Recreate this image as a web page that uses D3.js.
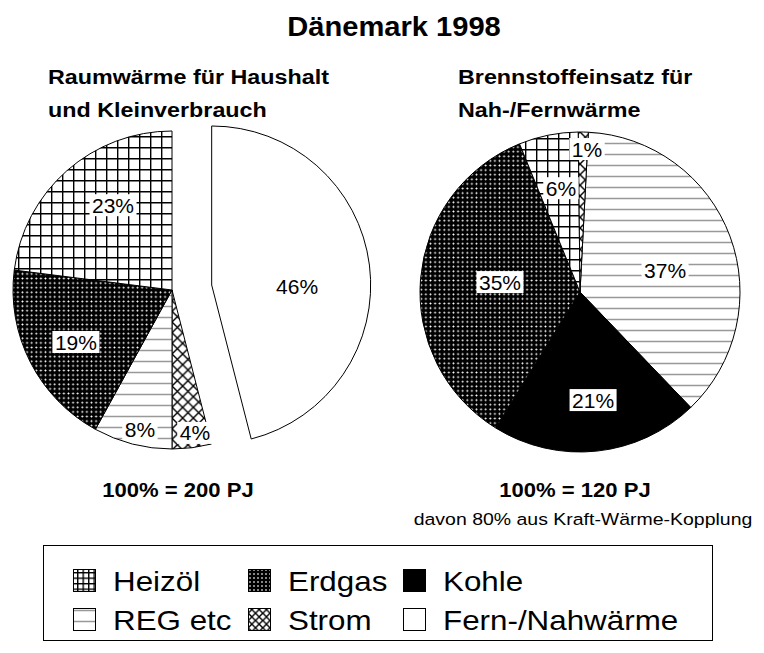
<!DOCTYPE html>
<html>
<head>
<meta charset="utf-8">
<script src="https://cdn.jsdelivr.net/npm/d3@7"></script>
<style>
  body { margin: 0; background: #fff; }
  text { font-family: "Liberation Sans", Arial, sans-serif; fill: #000; }
</style>
</head>
<body>
<div id="chart"></div>
<script>
// Raumwärme (left pie), clockwise from 12 o'clock
const leftCategories = ["Fern-/Nahwärme", "Strom", "REG etc", "Erdgas", "Heizöl"];
const leftValues = [46, 4, 8, 19, 23];
// Brennstoffeinsatz Nah-/Fernwärme (right pie)
const rightCategories = ["REG etc", "Kohle", "Erdgas", "Heizöl", "Strom"];
const rightValues = [37, 21, 35, 6, 1];

const legendCategories = ["Heizöl", "Erdgas", "Kohle", "REG etc", "Strom", "Fern-/Nahwärme"];

const width = 764, height = 653;

const svg = d3.select("#chart").append("svg")
  .attr("width", width)
  .attr("height", height);

svg.append("rect").attr("width", width).attr("height", height).attr("fill", "#fff");

const defs = svg.append("defs");

// hatch patterns, s = tile edge
function makePattern(id, kind, s) {
  const p = defs.append("pattern")
    .attr("id", id)
    .attr("patternUnits", "userSpaceOnUse")
    .attr("width", s).attr("height", s);
  if (kind === "grid") {
    p.append("rect").attr("width", s).attr("height", s).attr("fill", "#fff");
    p.append("path").attr("d", `M0,0.7H${s}M0.7,0V${s}`)
      .attr("stroke", "#000").attr("stroke-width", 1.4);
  } else if (kind === "hlines") {
    p.append("rect").attr("width", s).attr("height", s).attr("fill", "#fff");
    p.append("path").attr("d", `M0,${s / 2}H${s}`)
      .attr("stroke", "#999").attr("stroke-width", 1.5);
  } else if (kind === "cross") {
    p.append("rect").attr("width", s).attr("height", s).attr("fill", "#fff");
    p.append("path").attr("d", `M0,0L${s},${s}M${s},0L0,${s}`)
      .attr("stroke", "#000").attr("stroke-width", 1.4);
  } else if (kind === "weave") {
    p.append("rect").attr("width", s).attr("height", s).attr("fill", "#000");
    const c = s / 2, h = s * 0.26;
    p.append("path")
      .attr("d", `M${c},${c - h}L${c + h},${c}L${c},${c + h}L${c - h},${c}Z`)
      .attr("fill", "#fff");
  }
}

makePattern("p-heizol", "grid", 11);
makePattern("p-reg", "hlines", 11);
makePattern("p-strom", "cross", 10.67);
makePattern("p-erdgas", "weave", 4.6);
makePattern("l-heizol", "grid", 5.5);
makePattern("l-reg", "hlines", 11);
makePattern("l-strom", "cross", 7.3);
makePattern("l-erdgas", "weave", 4);

const fills = {
  "Heizöl": "url(#p-heizol)",
  "Erdgas": "url(#p-erdgas)",
  "Kohle": "#000",
  "REG etc": "url(#p-reg)",
  "Strom": "url(#p-strom)",
  "Fern-/Nahwärme": "#fff"
};
const legendFills = {
  "Heizöl": "url(#l-heizol)",
  "Erdgas": "url(#l-erdgas)",
  "Kohle": "#000",
  "REG etc": "url(#l-reg)",
  "Strom": "url(#l-strom)",
  "Fern-/Nahwärme": "#fff"
};

function addText(g, str, x, y, size, opts = {}) {
  return g.append("text")
    .attr("transform", `translate(${x},${y}) scale(${opts.sx || 1},1)`)
    .attr("text-anchor", opts.anchor || "start")
    .style("font-size", size + "px")
    .style("font-weight", opts.weight || "normal")
    .text(str);
}

// ---- titles
addText(svg, "Dänemark 1998", 394, 36, 28, { anchor: "middle", weight: "bold", sx: 1.04 });
addText(svg, "Raumwärme für Haushalt", 48, 84, 21, { weight: "bold", sx: 1.11 });
addText(svg, "und Kleinverbrauch", 48, 117, 21, { weight: "bold", sx: 1.11 });
addText(svg, "Brennstoffeinsatz für", 458, 84, 21, { weight: "bold", sx: 1.11 });
addText(svg, "Nah-/Fernwärme", 458, 117, 21, { weight: "bold", sx: 1.11 });

// ---- pies
function drawPie(cfg) {
  const g = svg.append("g").attr("transform", `translate(${cfg.cx},${cfg.cy})`);
  const start = cfg.startDeg * Math.PI / 180;
  const pie = d3.pie().sort(null).value(d => d.value)
    .startAngle(start).endAngle(start + 2 * Math.PI);
  const arc = d3.arc().innerRadius(0).outerRadius(cfg.r);
  const rows = cfg.categories.map((c, i) => ({ cat: c, value: cfg.values[i] }));
  const arcs = pie(rows);

  const offset = d => {
    if (d.data.cat !== cfg.explode) return [0, 0];
    const a = (d.startAngle + d.endAngle) / 2;
    return [Math.sin(a) * cfg.explodeBy, -Math.cos(a) * cfg.explodeBy];
  };

  g.selectAll("path.slice")
    .data(arcs)
    .join("path")
    .attr("class", "slice")
    .attr("transform", d => `translate(${offset(d)})`)
    .attr("d", arc)
    .attr("fill", d => fills[d.data.cat])
    .attr("stroke", "#000")
    .attr("stroke-width", 1);

  // labels sit at a per-slice radius, nudged a little in angle like the original
  const labels = g.selectAll("g.label")
    .data(arcs)
    .join("g")
    .attr("class", "label")
    .attr("transform", (d, i) => {
      const k = cfg.r * cfg.labelR[i];
      const shift = cfg.labelShift[i] * Math.PI / 180;
      const a = (d.startAngle + d.endAngle) / 2 + shift;
      const o = offset(d);
      return `translate(${Math.sin(a) * k + o[0]},${-Math.cos(a) * k + o[1]})`;
    });

  labels.append("rect").attr("fill", "#fff");
  labels.append("text")
    .attr("text-anchor", "middle")
    .attr("dy", "0.36em")
    .style("font-size", "21px")
    .text(d => d.data.value + "%");
  labels.each(function () {
    const t = d3.select(this).select("text").node().getBBox();
    d3.select(this).select("rect")
      .attr("x", t.x - 2.5).attr("y", t.y + 0.5)
      .attr("width", t.width + 5).attr("height", t.height - 1);
  });
}

drawPie({
  cx: 172, cy: 290, r: 159, startDeg: 0,
  categories: leftCategories, values: leftValues,
  explode: "Fern-/Nahwärme", explodeBy: 40,
  labelR: [0.537, 0.91, 0.897, 0.687, 0.65],
  labelShift: [8.5, -1.9, -1.4, -1.4, 6.6]
});

drawPie({
  cx: 580, cy: 292, r: 160, startDeg: 3,
  categories: rightCategories, values: rightValues,
  explode: null, explodeBy: 0,
  labelR: [0.549, 0.68, 0.504, 0.66, 0.895],
  labelShift: [5.9, -0.9, 2.3, 1, 1.6]
});

// ---- totals
addText(svg, "100% = 200 PJ", 178, 497, 21, { anchor: "middle", weight: "bold", sx: 1.05 });
addText(svg, "100% = 120 PJ", 575, 497, 21, { anchor: "middle", weight: "bold", sx: 1.05 });
addText(svg, "davon 80% aus Kraft-Wärme-Kopplung", 583, 525, 17, { anchor: "middle", sx: 1.146 });

// ---- legend
const legend = svg.append("g");
legend.append("rect")
  .attr("x", 43.5).attr("y", 545.5)
  .attr("width", 669).attr("height", 95)
  .attr("fill", "#fff").attr("stroke", "#000").attr("stroke-width", 1);

const colX = [73, 248, 403];
const rowY = [569, 608];
legendCategories.forEach((c, i) => {
  const x = colX[i % 3], y = rowY[Math.floor(i / 3)];
  legend.append("rect")
    .attr("x", x + 0.5).attr("y", y + 0.5)
    .attr("width", 22).attr("height", 22)
    .attr("fill", legendFills[c])
    .attr("stroke", "#000").attr("stroke-width", 1);
  addText(legend, c, x + 40, y + 22, 28, { sx: 1.12 });
});
</script>
</body>
</html>
